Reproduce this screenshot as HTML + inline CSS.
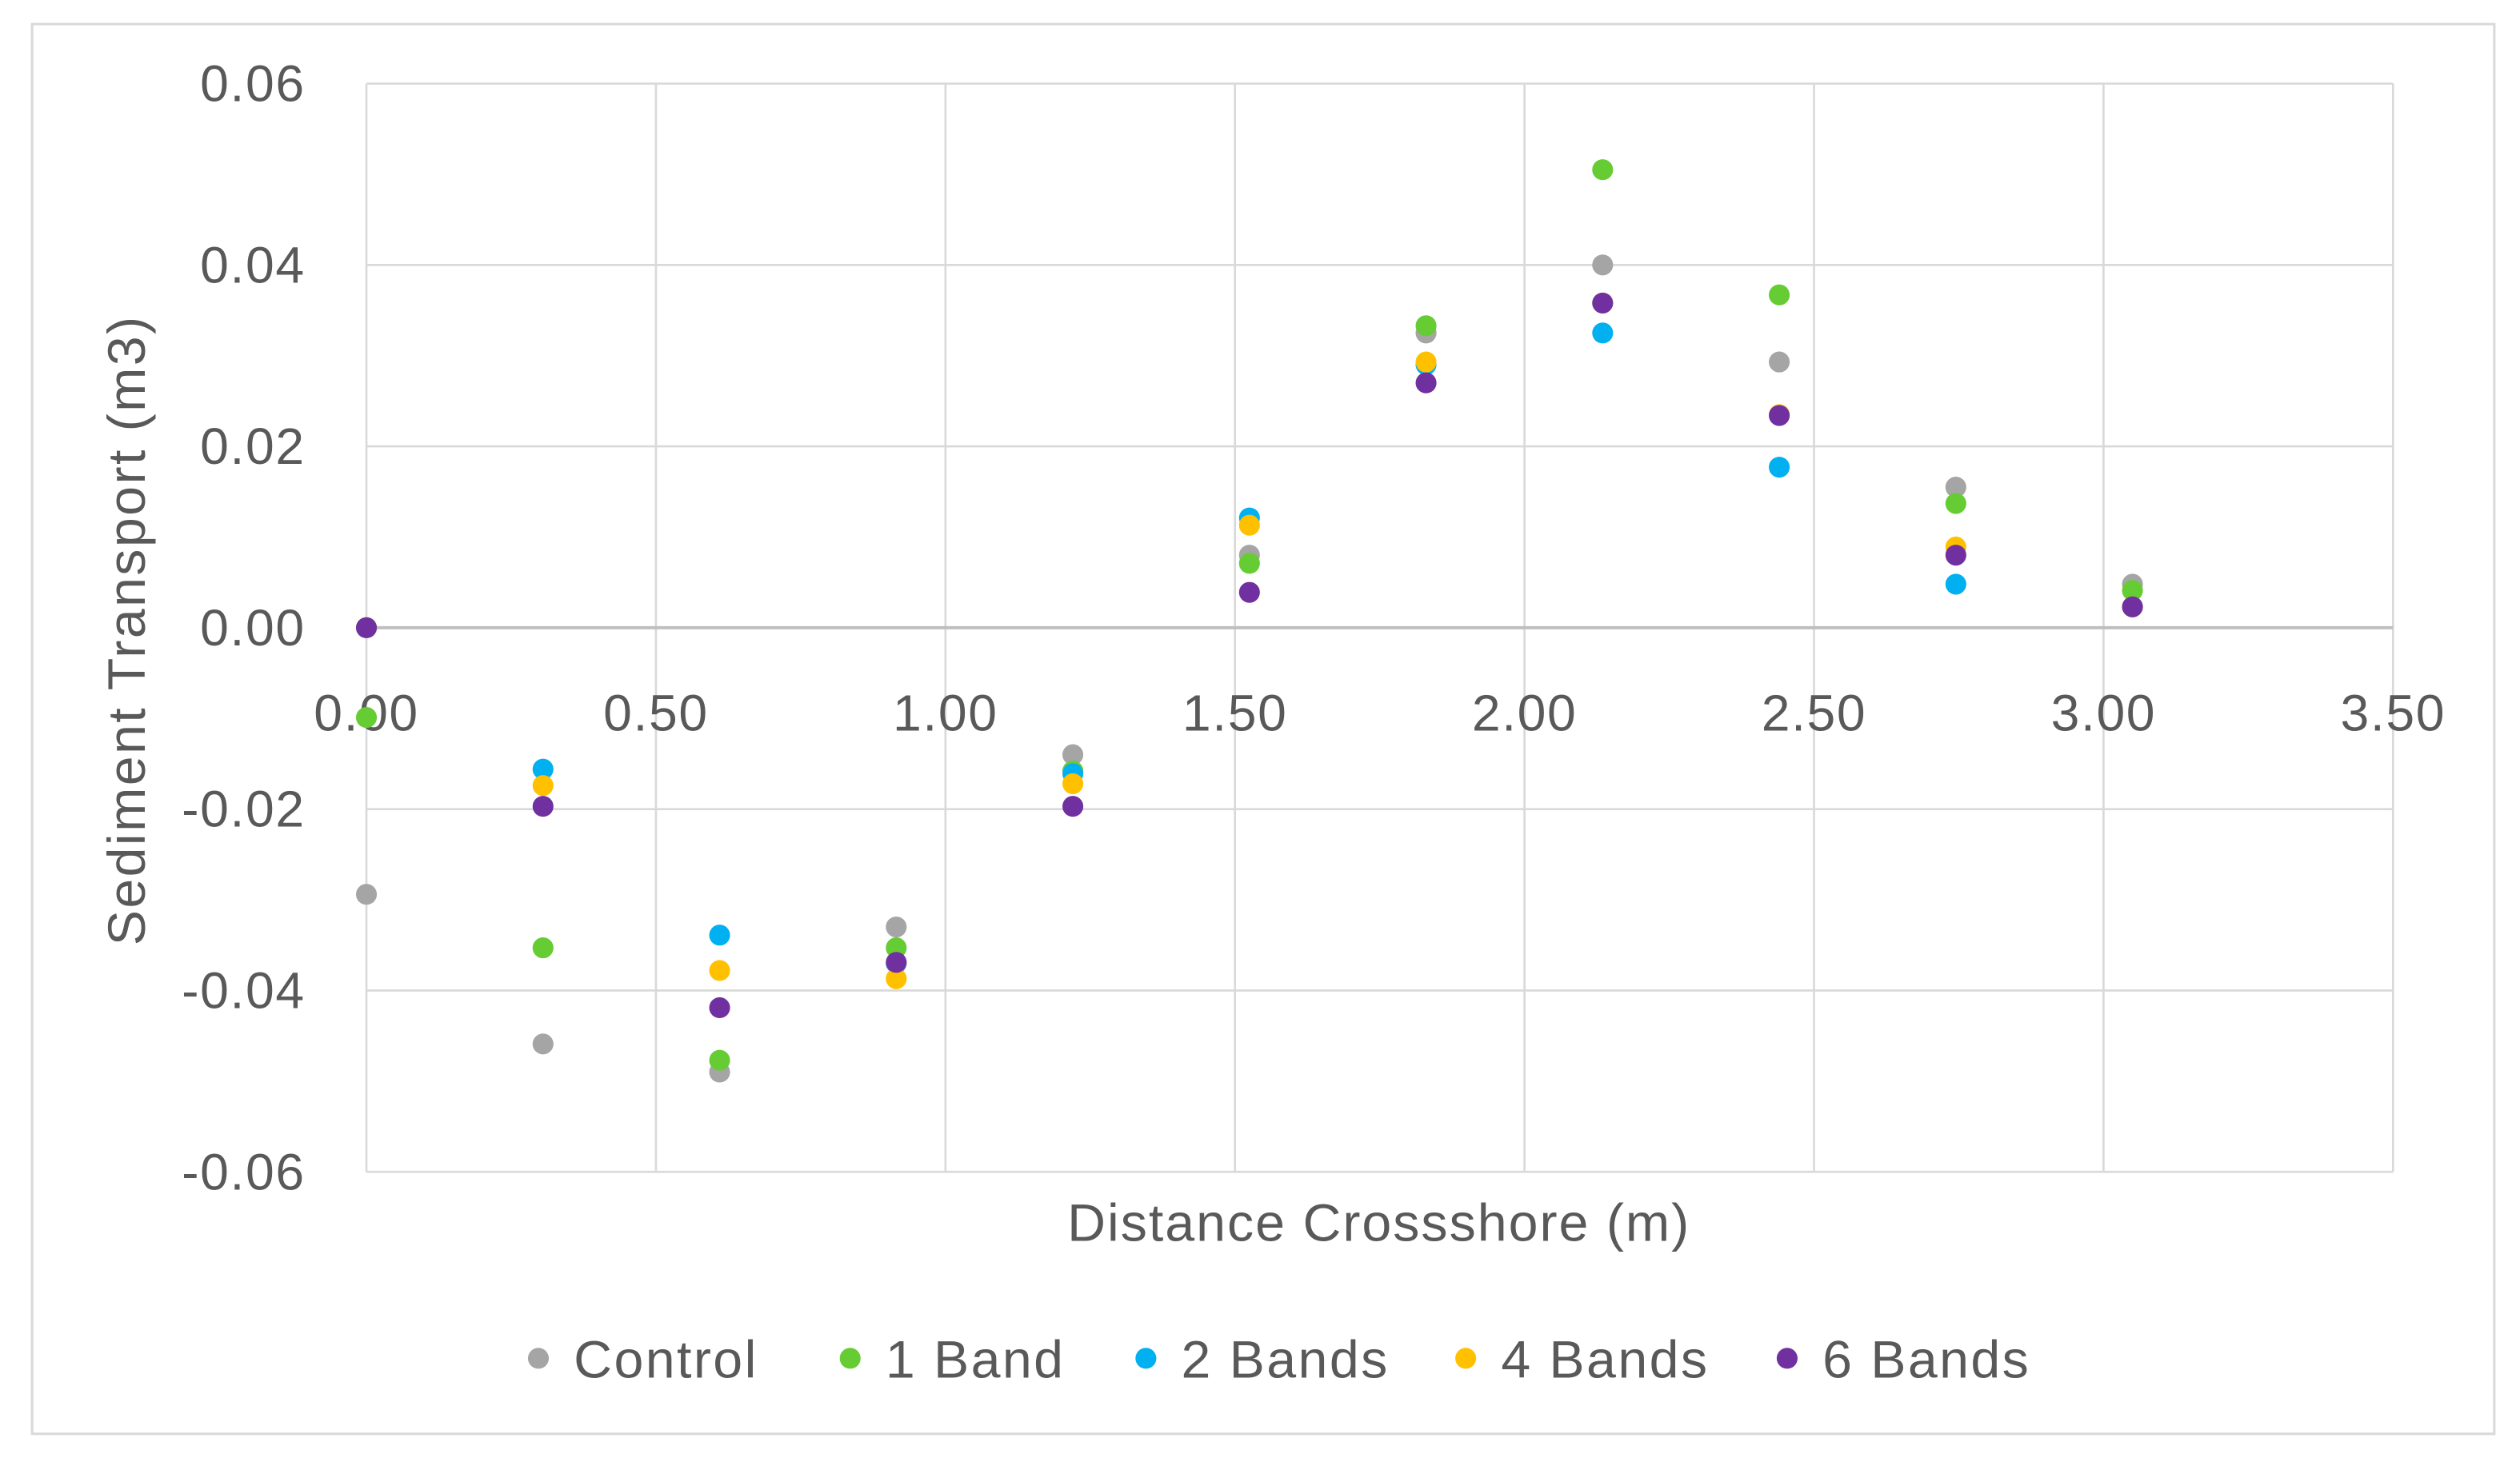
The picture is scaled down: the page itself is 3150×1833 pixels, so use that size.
<!DOCTYPE html>
<html><head><meta charset="utf-8"><style>
html,body{margin:0;padding:0;background:#fff;}
svg{display:block;font-family:"Liberation Sans",sans-serif;}
</style></head><body>
<svg id="chart" width="3150" height="1833" viewBox="0 0 1568 912" preserveAspectRatio="none" xmlns="http://www.w3.org/2000/svg">
<rect x="20" y="15" width="1532" height="877" fill="#fff" stroke="#d9d9d9" stroke-width="1.5"/>
<g id="grid"></g>
<g id="axes"></g>
<g id="series"></g>
<text transform="translate(90,392) rotate(-90)" text-anchor="middle" font-size="33" letter-spacing="1.2" fill="#595959">Sediment Transport (m3)</text>
<text x="858" y="772" text-anchor="middle" font-size="33" letter-spacing="1" fill="#595959">Distance Crossshore (m)</text>
<g id="legend"></g>
</svg>
<script>
const xValues = [0, 0.305, 0.61, 0.915, 1.22, 1.525, 1.83, 2.135, 2.44, 2.745, 3.05];
const seriesNames = ["Control", "1 Band", "2 Bands", "4 Bands", "6 Bands"];
const controlValues = [-0.0294, -0.0459, -0.049, -0.033, -0.014, 0.008, 0.0325, 0.040, 0.0293, 0.0155, 0.0048];
const band1Values = [-0.0099, -0.0353, -0.0477, -0.0353, -0.0158, 0.0071, 0.0333, 0.0505, 0.0367, 0.0137, 0.0041];
const band2Values = [0, -0.0156, -0.0339, -0.037, -0.0161, 0.0121, 0.029, 0.0325, 0.0177, 0.0048, 0.0023];
const band4Values = [0, -0.0174, -0.0378, -0.0387, -0.0172, 0.0113, 0.0293, 0.0358, 0.0235, 0.0089, 0.0023];
const band6Values = [0, -0.0197, -0.0419, -0.0369, -0.0197, 0.0039, 0.027, 0.0358, 0.0234, 0.008, 0.0023];
const xTicks = ["0.00","0.50","1.00","1.50","2.00","2.50","3.00","3.50"];
const yTicks = ["-0.06","-0.04","-0.02","0.00","0.02","0.04","0.06"];

const colors = ["#a5a5a5","#66cc33","#00b0f0","#ffc000","#7030a0"];
const allSeries = [controlValues, band1Values, band2Values, band4Values, band6Values];
const NS = "http://www.w3.org/2000/svg";
const L = 228, R = 1489, T = 52, B = 729;
const xMin = 0, xMax = 3.5, yMin = -0.06, yMax = 0.06;
const sx = v => L + (v - xMin) / (xMax - xMin) * (R - L);
const sy = v => B - (v - yMin) / (yMax - yMin) * (B - T);
function mk(tag, attrs, parent, text){
  const e = document.createElementNS(NS, tag);
  for (const k in attrs) e.setAttribute(k, attrs[k]);
  if (text !== undefined) e.textContent = text;
  parent.appendChild(e); return e;
}
const grid = document.getElementById('grid');
const axes = document.getElementById('axes');
yTicks.forEach(t => {
  const v = parseFloat(t), y = sy(v);
  const ln = mk('line', {x1:L, x2:R, y1:y, y2:y, stroke: v === 0 ? '#bfbfbf' : '#d9d9d9', 'stroke-width': v === 0 ? 2 : 1.3}, v === 0 ? axes : grid);
  
  
  const tx = mk('text', {x: 190, y: y + 11, 'text-anchor':'end', 'font-size': 32, 'letter-spacing': 0.8, fill:'#595959'}, axes, t);
  
  
});
xTicks.forEach(t => {
  const v = parseFloat(t), x = sx(v);
  const ln = mk('line', {x1:x, x2:x, y1:T, y2:B, stroke:'#d9d9d9', 'stroke-width':1.3}, grid);
  
  
  const tx = mk('text', {x: x, y: sy(0) + 64, 'text-anchor':'middle', 'font-size': 32, 'letter-spacing': 0.8, fill:'#595959'}, axes, t);
  
  
});
const sg = document.getElementById('series');
allSeries.forEach((vals, si) => {
  const g = mk('g', {}, sg);
  
  
  vals.forEach((v, i) => {
    const c = mk('circle', {cx: sx(xValues[i]), cy: sy(v), r: 6.5, fill: colors[si]}, g);
    
    
  });
});
const lg = document.getElementById('legend');
const legendX = [335, 529, 713, 912, 1112];
seriesNames.forEach((n, i) => {
  const g = mk('g', {}, lg);
  
  
  mk('circle', {cx: legendX[i], cy: 845, r: 6.5, fill: colors[i]}, g);
  mk('text', {x: legendX[i] + 22, y: 857, 'font-size': 33, 'letter-spacing': 1.2, fill:'#595959'}, g, n);
});
</script>
</body></html>
